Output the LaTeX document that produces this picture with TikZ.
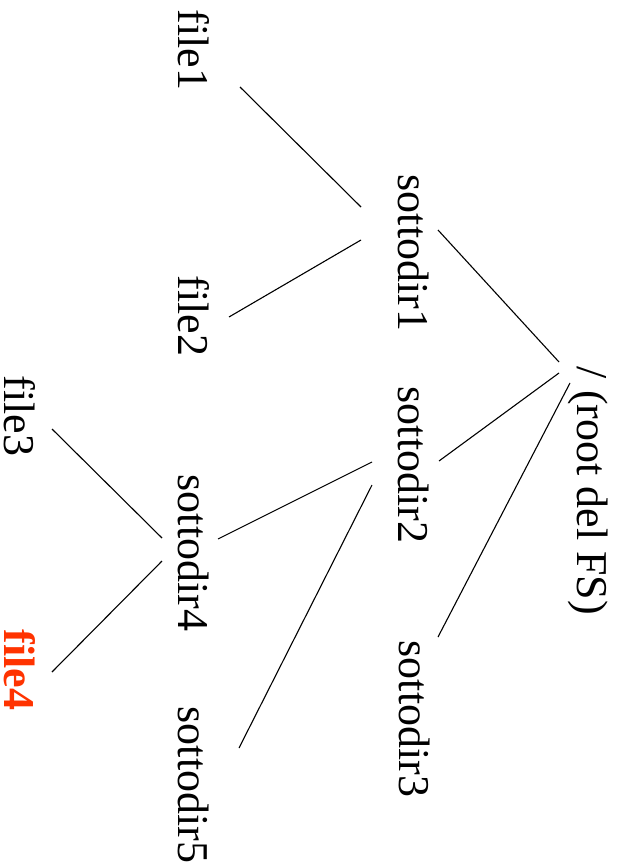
\documentclass[tikz,border=0pt]{standalone}
\usepackage{fontspec}
\setmainfont{Liberation Serif}
\definecolor{fsred}{RGB}{255,51,0}
\tikzset{
  entry/.style={rotate=-90, inner sep=0pt, font=\fontsize{44}{50}\selectfont},
  hot/.style={entry, text=fsred, font=\fontsize{44}{50}\selectfont\bfseries}
}
\begin{document}
\begin{tikzpicture}[x=1pt, y=1pt]
      \useasboundingbox (0,0) rectangle (619,-866);
      \draw
        (588,-491) node[entry] (root){/ (root del FS)}
        (414,-253) node[entry] (sottodir1){sottodir1}
        (414,-465) node[entry] (sottodir2){sottodir2}
        (415,-719) node[entry] (sottodir3){sottodir3}
        (194,-553) node[entry] (sottodir4){sottodir4}
        (194,-785) node[entry] (sottodir5){sottodir5}
        (194,-50) node[entry] (file1){file1}
        (194,-316) node[entry] (file2){file2}
        (20,-416) node[entry] (file3){file3}
        (20,-670) node[hot] (file4){file4};
      \begin{scope}[-, line width=1.1pt]
        \draw ([shift={(24,23)}]sottodir1.center) to ([shift={(-29,129)}]root.center);
        \draw ([shift={(-29,118)}]root.center) to ([shift={(25,4)}]sottodir2.center);
        \draw ([shift={(-18,108)}]root.center) to ([shift={(23,82)}]sottodir3.center);
        \draw ([shift={(46,-37)}]file1.center) to ([shift={(-53,46)}]sottodir1.center);
        \draw ([shift={(-53,13)}]sottodir1.center) to ([shift={(35,-1)}]file2.center);
        \draw ([shift={(-42,3)}]sottodir2.center) to ([shift={(24,14)}]sottodir4.center);
        \draw ([shift={(-42,-20)}]sottodir2.center) to ([shift={(45,37)}]sottodir5.center);
        \draw ([shift={(32,-13)}]file3.center) to ([shift={(-32,15)}]sottodir4.center);
        \draw ([shift={(-32,-8)}]sottodir4.center) to ([shift={(32,-2)}]file4.center);
      \end{scope}
    \end{tikzpicture}
\end{document}
